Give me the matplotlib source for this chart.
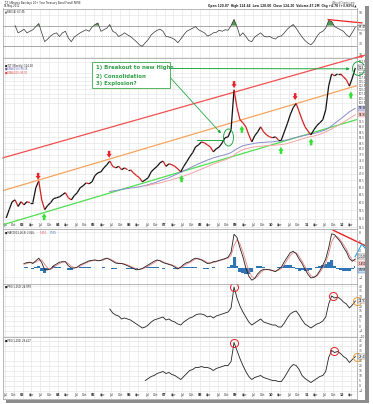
import numpy as np
import matplotlib
matplotlib.use('Agg')
import matplotlib.pyplot as plt
from matplotlib.collections import LineCollection
from matplotlib.path import Path
from matplotlib.transforms import Affine2D, blended_transform_factory
from matplotlib.patches import Rectangle
from matplotlib.ticker import FixedLocator, NullLocator, FormatStrFormatter

plt.rcParams['font.family'] = ['DejaVu Sans']

# monthly samples Jul 2002 .. May 2012, as decimal years (mid month)
months = np.arange(119)
t = 2002.5 + (months + 0.5) / 12

price = [55.2, 57.7, 60.2, 60.8, 58.7, 60.2, 59.2, 60.2, 59.9, 59.9,
         64.9, 67.3, 60.8, 57.7, 59.0, 59.9, 61.2, 61.5, 61.8, 62.5,
         63.2, 61.5, 60.8, 62.2, 63.2, 64.9, 65.6, 66.6, 66.3, 67.0,
         69.3, 70.3, 70.7, 72.2, 73.4, 74.9, 72.8, 72.2, 72.8, 71.5,
         72.2, 71.5, 71.5, 70.3, 69.3, 68.5, 67.0, 67.7, 68.5, 70.7,
         71.8, 72.8, 74.2, 74.9, 72.8, 73.8, 73.4, 72.8, 71.8, 70.7,
         72.8, 74.6, 76.6, 78.3, 80.8, 81.7, 83.0, 82.6, 81.7, 80.8,
         78.7, 80.0, 80.8, 82.6, 84.9, 85.3, 88.6, 109.8, 99.8, 93.5,
         92.0, 90.0, 86.2, 83.0, 85.8, 87.6, 90.0, 87.6, 86.2, 85.3,
         84.9, 85.3, 83.9, 83.9, 87.6, 91.5, 96.0, 99.8, 102.0, 97.7,
         93.5, 90.0, 88.0, 86.2, 88.6, 90.6, 92.0, 93.5, 98.6, 112.2,
         119.6, 118.4, 119.6, 119.6, 117.7, 115.8, 112.0, 117.1, 123.5]

ema150_start = 35
ema150 = [63.6, 63.8, 63.9, 64.1, 64.3, 64.5, 64.6, 64.8, 64.9, 65.1,
          65.2, 65.5, 65.7, 66.0, 66.3, 66.6, 67.0, 67.4, 67.8, 68.1,
          68.5, 69.0, 69.5, 70.0, 70.5, 71.1, 71.6, 72.1, 72.7, 73.2,
          73.8, 74.3, 74.8, 75.3, 75.7, 76.2, 76.5, 76.9, 77.2, 77.5,
          77.9, 78.4, 79.2, 80.0, 80.7, 81.3, 81.6, 81.9, 82.1, 82.4,
          82.6, 82.7, 82.8, 82.9, 83.0, 83.0, 83.2, 83.4, 83.5, 83.7,
          83.9, 84.3, 84.7, 85.0, 85.4, 85.7, 86.0, 86.3, 86.6, 86.9,
          87.2, 87.7, 88.1, 88.6, 89.5, 90.5, 91.6, 92.8, 93.9, 95.1,
          96.3, 97.6, 98.5, 99.4]

ema200_start = 47
ema200 = [65.5, 65.7, 66.0, 66.2, 66.4, 66.6, 66.9, 67.2, 67.5, 67.8,
          68.1, 68.4, 68.8, 69.1, 69.5, 69.9, 70.3, 70.8, 71.3, 71.7,
          72.2, 72.7, 73.2, 73.7, 74.1, 74.6, 75.0, 75.4, 75.9, 76.4,
          77.3, 78.3, 79.0, 79.6, 80.0, 80.3, 80.6, 80.8, 81.0, 81.1,
          81.2, 81.3, 81.4, 81.5, 81.6, 81.7, 81.8, 82.0, 82.3, 82.7,
          83.1, 83.5, 83.9, 84.3, 84.7, 85.1, 85.4, 85.7, 86.0, 86.5,
          87.0, 87.6, 88.3, 89.0, 89.8, 90.6, 91.4, 92.3, 93.2, 94.2,
          95.1, 96.0]

rsi_start = 3
rsi = [70, 56, 59, 63, 56, 59, 62, 68, 74, 56,
       39, 44, 50, 54, 56, 49, 56, 59, 46, 39,
       48, 52, 56, 59, 62, 59, 67, 72, 75, 59,
       62, 65, 72, 59, 56, 49, 52, 56, 52, 49,
       44, 39, 33, 30, 37, 43, 52, 57, 61, 63,
       59, 49, 48, 46, 43, 37, 44, 52, 59, 62,
       65, 68, 62, 59, 56, 50, 52, 56, 57, 61,
       59, 62, 61, 70, 82, 68, 50, 56, 49, 41,
       39, 48, 52, 56, 50, 48, 49, 46, 44, 49,
       50, 56, 63, 68, 72, 65, 56, 48, 41, 36,
       33, 39, 49, 56, 59, 65, 80, 78, 68, 65,
       62, 59, 52, 48, 57, 67]

macd_start = 6
macd = [1.0, 1.2, 1.3, 1.0, 1.6, 2.2, 1.2, -0.4, -0.4, -0.2,
        0.5, 0.9, 1.3, 1.4, 1.4, 0.5, 0.0, 0.0, 0.2, 0.7,
        1.0, 1.3, 1.6, 1.7, 1.8, 1.6, 1.7, 2.0, 2.2, 1.9,
        1.5, 1.1, 1.0, 1.0, 0.8, 0.5, 0.2, -0.1, -0.4, -0.3,
        -0.1, 0.3, 0.7, 1.1, 1.5, 1.8, 1.6, 1.2, 1.0, 0.8,
        0.6, 0.2, -0.2, 0.2, 0.8, 1.2, 1.4, 1.9, 2.2, 2.0,
        1.8, 1.4, 1.0, 1.1, 1.4, 1.5, 1.7, 1.9, 2.1, 2.4,
        3.5, 7.5, 6.8, 4.5, 2.5, 0.0, -1.8, -2.7, -2.3, -1.3,
        -0.6, -0.3, -0.3, -0.4, -0.6, -0.8, -0.3, 0.2, 1.4, 2.4,
        3.4, 3.7, 3.2, 2.0, 1.0, -0.3, -1.4, -2.2, -2.1, -1.6,
        -0.6, 0.6, 2.0, 4.5, 7.6, 7.4, 6.6, 5.8, 4.6, 3.6,
        2.1, 1.5, 2.0]
signal = [0.8, 1.0, 1.2, 1.2, 1.3, 1.7, 1.8, 0.8, 0.0, -0.3,
          0.1, 0.6, 1.0, 1.3, 1.4, 1.0, 0.4, 0.1, 0.1, 0.4,
          0.8, 1.1, 1.4, 1.6, 1.7, 1.7, 1.7, 1.8, 2.1, 2.0,
          1.7, 1.3, 1.1, 1.0, 0.9, 0.7, 0.4, 0.1, -0.2, -0.3,
          -0.2, 0.1, 0.4, 0.8, 1.2, 1.6, 1.7, 1.4, 1.1, 0.9,
          0.7, 0.4, 0.0, 0.0, 0.5, 0.9, 1.2, 1.6, 2.0, 2.1,
          1.9, 1.6, 1.2, 1.1, 1.2, 1.4, 1.6, 1.8, 2.0, 2.2,
          2.8, 5.0, 6.3, 5.4, 3.6, 1.4, -0.5, -1.9, -2.3, -1.8,
          -1.0, -0.5, -0.3, -0.4, -0.5, -0.7, -0.5, -0.1, 0.8, 1.8,
          2.8, 3.4, 3.4, 2.6, 1.5, 0.3, -0.8, -1.7, -2.0, -1.8,
          -1.0, 0.0, 1.2, 3.2, 5.8, 7.0, 6.9, 6.2, 5.2, 4.2,
          2.8, 1.8, 1.5]

ppo150_start = 35
ppo150 = [17, 13, 11, 10, 7, 8, 7, 6, 4, 2,
          0, -2, -1, 1, 4, 6, 7, 8, 9, 6,
          7, 5, 4, 2, 1, 4, 6, 8, 9, 11,
          12, 12, 11, 9, 10, 8, 10, 11, 12, 13,
          14, 18, 39, 28, 20, 14, 9, 4, 1, 3,
          5, 7, 4, 3, 2, 1, 1, -1, -1, 3,
          8, 12, 14, 15, 11, 6, 2, 0, -2, 0,
          2, 3, 5, 9, 22, 30, 28, 29, 27, 24,
          22, 18, 21, 25]

ppo200_start = 47
ppo200 = [5, 7, 9, 10, 12, 13, 14, 12, 13, 11,
          10, 8, 6, 9, 12, 15, 16, 18, 18, 19,
          18, 18, 17, 15, 17, 18, 19, 20, 20, 24,
          43, 35, 27, 20, 14, 9, 6, 8, 9, 10,
          8, 7, 6, 5, 5, 4, 4, 8, 13, 18,
          21, 20, 16, 10, 7, 5, 3, 5, 7, 9,
          10, 14, 28, 35, 33, 34, 32, 29, 27, 23,
          26, 29]

# annotations (decimal year, value)
red_arrow_t = [2003.44, 2005.44, 2008.96, 2010.68]
red_arrow_p = [67.7, 76.2, 110.8, 103.9]
green_arrow_t = [2003.61, 2007.48, 2009.18, 2010.28, 2011.13, 2012.25]
green_arrow_p = [56.6, 69.4, 90.5, 80.8, 84.6, 108.8]
red_trend = ([2002.45, 2012.70], [76.2, 132.7])
orange_trend = ([2002.45, 2012.42], [63.9, 112.3])
green_trend = ([2002.45, 2012.42], [53.2, 93.6])
res_2008 = ([2007.92, 2008.62], [84.0, 84.0])
circle_t = [2008.79, 2012.45]
circle_p = [85.3, 123.5]
rsi_trend = ([2011.61, 2012.56], [81.6, 75.2])
macd_trend = ([2011.75, 2012.73], [8.4, 4.7])
macd_proj = ([2012.37, 2012.555, 2012.70], [2.5, 5.3, 4.0])
ppo150_marks = ([2008.96, 2011.74], [39, 30])
ppo200_marks = ([2008.96, 2011.77], [43, 35])

W, H = 373, 404
LEFT, RIGHT = 3, 357
T0, T1 = 2002.4507, 2012.4225
GRID = '#e2e2e2'

fig = plt.figure(figsize=(W / 100, H / 100), dpi=100)

qticks = np.arange(2002.5, 2012.3, 0.25)
qlabels = []
for q in qticks:
    frac = round((q % 1) * 4)
    qlabels.append(['%02d' % (int(q) % 100), 'Apr', 'Jul', 'Oct'][frac])


def panel(top, bottom, xlabels=False):
    ax = fig.add_axes([LEFT / W, 1 - bottom / H, (RIGHT - LEFT) / W, (bottom - top) / H])
    ax.set_xlim(T0, T1)
    ax.set_xticks(qticks)
    ax.grid(True, axis='both', color=GRID, lw=0.4)
    ax.set_axisbelow(True)
    ax.yaxis.tick_right()
    ax.tick_params(axis='y', length=0, labelsize=2.2, pad=1, colors='#444444')
    for s in ax.spines.values():
        s.set_color('#9a9a9a')
        s.set_linewidth(0.5)
    if xlabels:
        ax.set_xticklabels(qlabels)
        ax.tick_params(axis='x', length=0, labelsize=2.3, pad=-4.2, colors='#333333')
        for lab in ax.get_xticklabels():
            if lab.get_text()[0].isdigit():
                lab.set_fontweight('bold')
    else:
        ax.tick_params(axis='x', length=0, labelbottom=False)
    return ax


def keep_clear(ticks, boxes, gap):
    # tick labels hidden behind the value boxes on the right
    return [v for v in ticks if min(abs(v - b) for b in boxes) > gap]


def value_box(ax, y, text, fc, ec, tc='black'):
    tr = blended_transform_factory(ax.transAxes, ax.transData)
    ax.text(1.004, y, text, transform=tr, fontsize=2.0, color=tc, va='center', ha='left',
            clip_on=False, bbox=dict(boxstyle='square,pad=0.15', fc=fc, ec=ec, lw=0.3))


def ellipse(w, h):
    return Path.unit_circle().transformed(Affine2D().scale(w, h))


# ---- RSI panel
ax_r = panel(8.5, 57.5)
tr = t[rsi_start:]
rv = np.array(rsi)
ax_r.set_ylim(8.4, 103)
ax_r.set_yticks(keep_clear([10, 30, 50, 70, 90], [rv[-1]], 5))
ax_r.tick_params(axis='y', pad=1)
for lab in ax_r.get_yticklabels():
    lab.set_va('bottom')
ax_r.axhline(70, color='#8a8a8a', lw=0.5)
ax_r.axhline(30, color='#8a8a8a', lw=0.5)
ax_r.axhline(50, color='#9a9a9a', lw=0.4, ls=(0, (2, 2)))
ax_r.fill_between(tr, rv, 70, where=rv > 70, interpolate=True, color='#4f9a4f', lw=0)
ax_r.plot(tr, rv, color='#333333', lw=0.5)
ax_r.plot(rsi_trend[0], rsi_trend[1], color='#ee2222', lw=0.9, clip_on=False)
value_box(ax_r, rv[-1], '67.45', 'white', '#333333')
ax_r.text(0.006, 0.97, '\u25b2RSI(14) 67.45', transform=ax_r.transAxes, fontsize=1.9,
          va='top', color='#222222')

# ---- price panel
ax_p = panel(57.5, 229, xlabels=True)
ax_p.set_yscale('log')
ax_p.set_ylim(52.0, 130.6)
ax_p.yaxis.set_major_locator(FixedLocator(
    keep_clear(np.arange(52.5, 128.1, 2.5), [price[-1], ema150[-1], ema200[-1]], 2.6)))
ax_p.yaxis.set_minor_locator(NullLocator())
ax_p.yaxis.set_major_formatter(FormatStrFormatter('%.1f'))
ax_p.tick_params(axis='y', labelsize=1.9)

ax_p.plot(red_trend[0], red_trend[1], color='#f05050', lw=0.9, clip_on=False)
ax_p.annotate('', xy=(red_trend[0][1], red_trend[1][1]),
              xytext=(red_trend[0][1] - 0.3, red_trend[1][1] * 0.98),
              arrowprops=dict(arrowstyle='-|>', color='#f05050', lw=0.8, mutation_scale=4),
              annotation_clip=False)
ax_p.plot(orange_trend[0], orange_trend[1], color='#f7a35c', lw=0.9)
ax_p.plot(green_trend[0], green_trend[1], color='#4de04d', lw=0.9)
ax_p.plot(res_2008[0], res_2008[1], color='#22aa44', lw=0.7)

ax_p.plot(t[ema150_start:], ema150, color='#8c8cc8', lw=0.7)
ax_p.plot(t[ema200_start:], ema200, color='#f4a4a4', lw=0.7)

pts = np.column_stack([t, price])
segs = np.stack([pts[:-1], pts[1:]], axis=1)
cols = ['#111111' if b >= a else '#d42020' for a, b in zip(price[:-1], price[1:])]
ax_p.add_collection(LineCollection(segs, colors=cols, lw=0.9))

for tt, pp in zip(red_arrow_t, red_arrow_p):
    ax_p.annotate('', xy=(tt, pp), xytext=(0, 7), textcoords='offset pixels',
                  arrowprops=dict(arrowstyle='simple,head_length=0.7,head_width=0.9,tail_width=0.45',
                                  fc='#e8242a', ec='none', mutation_scale=4, shrinkA=0, shrinkB=0))
for tt, pp in zip(green_arrow_t, green_arrow_p):
    ax_p.annotate('', xy=(tt, pp), xytext=(0, -7), textcoords='offset pixels',
                  arrowprops=dict(arrowstyle='simple,head_length=0.7,head_width=0.9,tail_width=0.45',
                                  fc='#33e033', ec='none', mutation_scale=4, shrinkA=0, shrinkB=0))

ax_p.plot(circle_t[:1], circle_p[:1], ls='none', marker=ellipse(10, 17), ms=17 * 0.72,
          mfc='none', mec='#22aa44', mew=0.7)
ax_p.plot(circle_t[1:], circle_p[1:], ls='none', marker=ellipse(12, 14), ms=14 * 0.72,
          mfc='none', mec='#22aa44', mew=0.7, clip_on=False)

# annotation box
ax_p.add_patch(Rectangle((0.251, 0.820), 0.220, 0.151, transform=ax_p.transAxes,
                         fc='white', ec='#3aaa4a', lw=0.6, zorder=5))
for yy, txt in zip([0.939, 0.892, 0.846], ['1) Breakout to new Highs', '2) Consolidation', '3) Explosion?']):
    ax_p.text(0.262, yy, txt, transform=ax_p.transAxes, fontsize=3.9, fontweight='bold',
              color='#33a04a', va='center', zorder=6)
ax_p.annotate('', xy=(2012.225, 122.9), xytext=(0.472, 0.936), textcoords='axes fraction',
              arrowprops=dict(arrowstyle='-|>', color='#22aa44', lw=0.7, mutation_scale=4,
                              shrinkA=0, shrinkB=0))
ax_p.annotate('', xy=(2008.59, 86.9), xytext=(0.472, 0.884), textcoords='axes fraction',
              arrowprops=dict(arrowstyle='-|>', color='#22aa44', lw=0.6, mutation_scale=4,
                              shrinkA=0, shrinkB=0))

ax_p.text(0.006, 0.965, '\u25a0TLT (Weekly) 124.20', transform=ax_p.transAxes, fontsize=1.8,
          va='top', color='#222222')
ax_p.text(0.006, 0.945, '\u25a0EMA(150) 99.38', transform=ax_p.transAxes, fontsize=1.8,
          va='top', color='#6060b0')
ax_p.text(0.006, 0.925, '\u25a0EMA(200) 95.97', transform=ax_p.transAxes, fontsize=1.8,
          va='top', color='#e04848')
value_box(ax_p, price[-1], '124.20', 'white', '#222222')
value_box(ax_p, ema150[-1], '99.38', '#c8c8e8', '#8c8cc8')
value_box(ax_p, ema200[-1], '95.97', '#f8d0d0', '#f4a4a4')

# ---- MACD panel
ax_m = panel(229, 283.5)
tm = t[macd_start:]
mv = np.array(macd)
sv = np.array(signal)
ax_m.set_ylim(-3.44, 8.67)
ax_m.set_yticks([-2, 4, 6, 8])
ax_m.fill_between(tm, mv - sv, 0, color='#2f74b5', lw=0, step='mid')
ax_m.plot(tm, sv, color='#f08080', lw=0.6)
ax_m.plot(tm, mv, color='#222222', lw=0.6)
ax_m.plot(macd_trend[0], macd_trend[1], color='#ee2222', lw=1.0, clip_on=False)
ax_m.plot(macd_proj[0], macd_proj[1], color='#22a8e8', lw=0.8, clip_on=False)
ax_m.text(0.006, 0.97, '\u25a0MACD(12,26,9) 2.045,', transform=ax_m.transAxes, fontsize=1.8,
          va='top', color='#222222')
ax_m.text(0.105, 0.97, '1.451,', transform=ax_m.transAxes, fontsize=1.8, va='top', color='#e04848')
ax_m.text(0.133, 0.97, '0.595', transform=ax_m.transAxes, fontsize=1.8, va='top', color='#2f74b5')
value_box(ax_m, 2.5, '2.045', 'white', '#222222')
value_box(ax_m, 1.0, '1.451', '#f8d0d0', '#f08080')
value_box(ax_m, -0.5, '0.595', '#c8dcf0', '#2f74b5')

# ---- PPO(1,150)
ax_1 = panel(283.5, 337)
ax_1.set_ylim(-11, 42.5)
ax_1.set_yticks(keep_clear(np.arange(-10, 41, 5), [ppo150[-1]], 3))
ax_1.plot(t[ppo150_start:], ppo150, color='#222222', lw=0.6)
ax_1.plot(ppo150_marks[0], ppo150_marks[1], ls='none', marker='o', ms=5.8, mfc='none',
          mec='#e82020', mew=0.7)
ax_1.plot([t[-1] + 0.05], [ppo150[-1]], ls='none', marker='o', ms=5.8, mfc='none',
          mec='#f59a30', mew=0.7, clip_on=False)
ax_1.text(0.006, 0.97, '\u25a0PPO(1,150) 24.979', transform=ax_1.transAxes, fontsize=1.8,
          va='top', color='#222222')
value_box(ax_1, ppo150[-1], '24.979', 'white', '#555555')

# ---- PPO(1,200)
ax_2 = panel(337, 399, xlabels=True)
ax_2.set_ylim(-13.5, 48.5)
ax_2.set_yticks(keep_clear(np.arange(-5, 46, 5), [ppo200[-1]], 3))
ax_2.plot(t[ppo200_start:], ppo200, color='#222222', lw=0.6)
ax_2.plot(ppo200_marks[0], ppo200_marks[1], ls='none', marker='o', ms=5.8, mfc='none',
          mec='#e82020', mew=0.7)
ax_2.plot([t[-1] + 0.05], [ppo200[-1]], ls='none', marker='o', ms=5.8, mfc='none',
          mec='#f59a30', mew=0.7, clip_on=False)
ax_2.text(0.006, 0.975, '\u25a0PPO(1,200) 29.417', transform=ax_2.transAxes, fontsize=1.8,
          va='top', color='#222222')
value_box(ax_2, ppo200[-1], '29.417', 'white', '#555555')

# ---- header
fig.text(4 / W, 1 - 3 / H, 'TLT (iShares Barclays 20+ Year Treasury Bond Fund) NYSE', fontsize=1.9,
         va='center', color='#222222')
fig.text(4 / W, 1 - 6.5 / H, '18-May-2012', fontsize=1.8, va='center', color='#222222')
fig.text(356 / W, 1 - 2.5 / H, '@StockCharts.com', fontsize=1.8, va='center', ha='right', color='#555555')
fig.text(356 / W, 1 - 6.3 / H,
         'Open 120.07  High 124.44  Low 120.00  Close 124.20  Volume 47.2M  Chg +4.70 (+3.93%)\u25b2',
         fontsize=2.1, va='center', ha='right', color='#222222', fontweight='bold')

# drop shadow
fig.patches.append(Rectangle((6 / W, 1 - 403 / H), 363 / W, 3 / H, transform=fig.transFigure,
                             fc='#8c8c8c', ec='none'))
fig.patches.append(Rectangle((365 / W, 1 - 403 / H), 4 / W, 397 / H, transform=fig.transFigure,
                             fc='#8c8c8c', ec='none'))

fig.savefig('out.png', dpi=100, facecolor='white')
